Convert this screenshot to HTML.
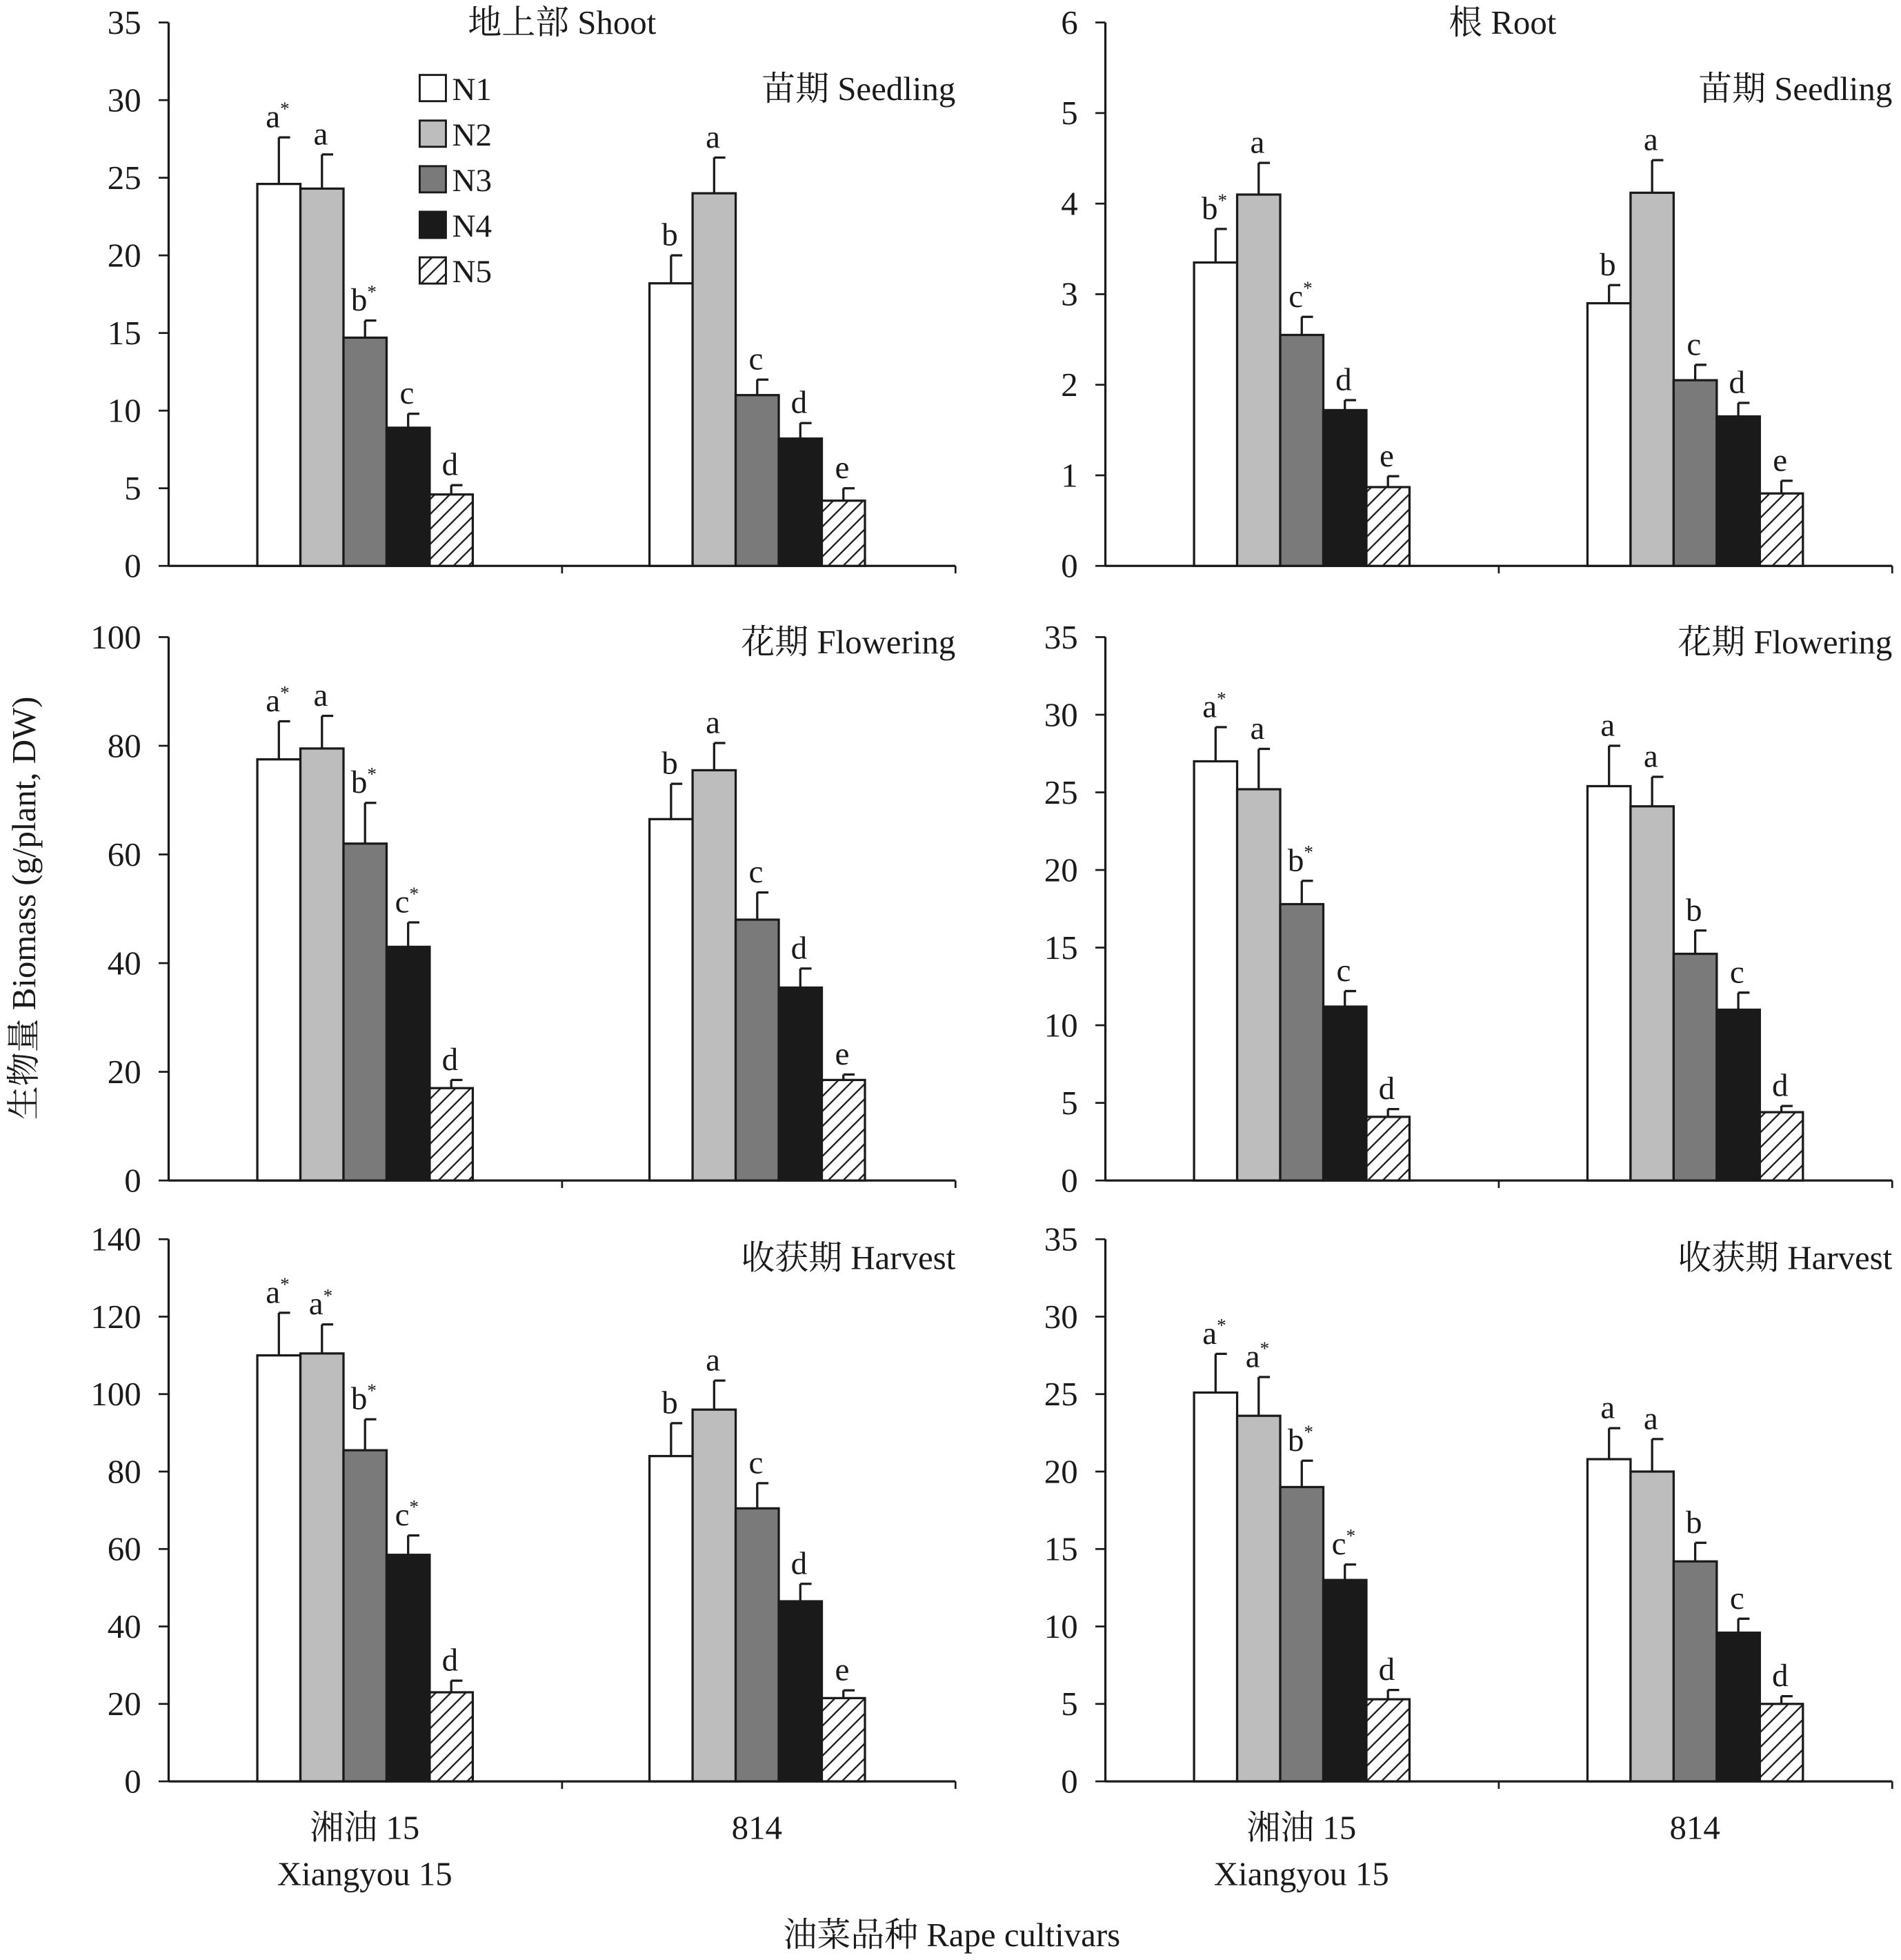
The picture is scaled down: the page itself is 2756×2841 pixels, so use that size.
<!DOCTYPE html>
<html><head><meta charset="utf-8"><style>
html,body{margin:0;padding:0;background:#fff}
svg{display:block}
svg text{font-family:"Liberation Serif","Times New Roman","Noto Serif CJK SC",serif;fill:#1a1a1a}
</style></head><body>
<svg id="fig" width="2756" height="2841" viewBox="0 0 1522 1569" xmlns="http://www.w3.org/2000/svg" font-family="Liberation Serif, Times New Roman, Noto Serif CJK SC, serif">
<defs><pattern id="hatch" patternUnits="userSpaceOnUse" width="12" height="12"><rect width="12" height="12" fill="#fff"/><path d="M-3,15 L15,-3 M-3,3 L3,-3 M9,15 L15,9" stroke="#1a1a1a" stroke-width="1.3"/></pattern></defs>
<g id="root"></g>
</svg>
<script>
const seriesNames=["N1","N2","N3","N4","N5"];
const cultivars=["Xiangyou 15","814"];
const shootSeedVals=[[24.6,24.3,14.7,8.9,4.6],[18.2,24.0,11.0,8.2,4.2]];
const shootSeedErr=[[27.6,26.5,15.8,9.8,5.2],[20.0,26.3,12.0,9.2,5.0]];
const shootSeedLab=[["a*","a","b*","c","d"],["b","a","c","d","e"]];
const rootSeedVals=[[3.35,4.1,2.55,1.72,0.87],[2.9,4.12,2.05,1.65,0.8]];
const rootSeedErr=[[3.72,4.45,2.75,1.83,0.99],[3.1,4.48,2.22,1.8,0.94]];
const rootSeedLab=[["b*","a","c*","d","e"],["b","a","c","d","e"]];
const shootFlowVals=[[77.5,79.5,62,43,17],[66.5,75.5,48,35.5,18.5]];
const shootFlowErr=[[84.5,85.5,69.5,47.5,18.5],[73,80.5,53,39,19.5]];
const shootFlowLab=[["a*","a","b*","c*","d"],["b","a","c","d","e"]];
const rootFlowVals=[[27,25.2,17.8,11.2,4.1],[25.4,24.1,14.6,11,4.4]];
const rootFlowErr=[[29.2,27.8,19.3,12.2,4.6],[28,26,16.1,12.1,4.8]];
const rootFlowLab=[["a*","a","b*","c","d"],["a","a","b","c","d"]];
const shootHarvVals=[[110,110.5,85.5,58.5,23],[84,96,70.5,46.5,21.5]];
const shootHarvErr=[[121,118,93.5,63.5,26],[92.5,103.5,77,51,23.5]];
const shootHarvLab=[["a*","a*","b*","c*","d"],["b","a","c","d","e"]];
const rootHarvVals=[[25.1,23.6,19,13,5.3],[20.8,20,14.2,9.6,5]];
const rootHarvErr=[[27.6,26.1,20.7,14,5.9],[22.8,22.1,15.4,10.5,5.5]];
const rootHarvLab=[["a*","a*","b*","c*","d"],["a","a","b","c","d"]];
const ticks35=[0,5,10,15,20,25,30,35];
const ticks6=[0,1,2,3,4,5,6];
const ticks100=[0,20,40,60,80,100];
const ticks140=[0,20,40,60,80,100,120,140];

const NS="http://www.w3.org/2000/svg";
const FF='"Liberation Serif","Times New Roman","Noto Serif CJK SC",serif';
const root=document.getElementById('root');
function el(tag,attrs,parent,txt){const e=document.createElementNS(NS,tag);for(const k in attrs)e.setAttribute(k,attrs[k]);if(tag==='text')e.style.fontFamily=FF;if(txt!==undefined)e.textContent=txt;(parent||root).appendChild(e);return e;}
const fills=["#ffffff","#bdbdbd","#7a7a7a","#1a1a1a","url(#hatch)"];

function panel(name,x0,x1,yTop,yBot,ticks,vals,errs,labs,title,titleY,groupStarts){
  const g=el('g',{});
  
  
  const max=ticks[ticks.length-1];
  const y=v=>yBot-(v/max)*(yBot-yTop);
  const ax=el('line',{x1:x0,y1:yTop,x2:x0,y2:yBot,stroke:'#1a1a1a','stroke-width':1.8},g);
  
  
  const xa=el('line',{x1:x0,y1:yBot,x2:x1,y2:yBot,stroke:'#1a1a1a','stroke-width':1.8},g);
  
  
  const mid=(x0+x1)/2;
  [mid,x1].forEach(tx=>{el('line',{x1:tx,y1:yBot,x2:tx,y2:yBot+6,stroke:'#1a1a1a','stroke-width':1.5},g);});
  ticks.forEach(t=>{
    el('line',{x1:x0-8,y1:y(t),x2:x0,y2:y(t),stroke:'#1a1a1a','stroke-width':1.5},g);
    const tl=el('text',{x:x0-22,y:y(t)+9,'text-anchor':'end','font-size':27},g,String(t));
    
    
  });
  const tt=el('text',{x:x1,y:titleY,'text-anchor':'end','font-size':27},g,title);
  
  
  const bw=34.5;
  vals.forEach((grp,gi)=>{
    grp.forEach((v,si)=>{
      const bx=groupStarts[gi]+si*bw;
      const r=el('rect',{x:bx,y:y(v),width:bw,height:yBot-y(v),fill:fills[si],stroke:'#1a1a1a','stroke-width':1.8},g);
      
      
      const cx=bx+bw/2, ey=y(errs[gi][si]);
      el('line',{x1:cx,y1:y(v),x2:cx,y2:ey,stroke:'#1a1a1a','stroke-width':1.8},g);
      el('line',{x1:cx,y1:ey,x2:cx+9,y2:ey,stroke:'#1a1a1a','stroke-width':1.8},g);
      const lab=labs[gi][si];
      const t=el('text',{x:cx-1,y:ey-8,'text-anchor':'middle','font-size':26},g);
      
      
      t.appendChild(document.createTextNode(lab.replace('*','')));
      if(lab.includes('*')){el('tspan',{'font-size':15,dy:-10},t,'*');}
    });
  });
}
const L=[135,765,[206,520]], R=[885,1515,[956,1271]];
panel('shoot-seedling-panel',L[0],L[1],18,453,ticks35,shootSeedVals,shootSeedErr,shootSeedLab,'苗期 Seedling',80,L[2]);
panel('root-seedling-panel',R[0],R[1],18,453,ticks6,rootSeedVals,rootSeedErr,rootSeedLab,'苗期 Seedling',80,R[2]);
panel('shoot-flowering-panel',L[0],L[1],510,945,ticks100,shootFlowVals,shootFlowErr,shootFlowLab,'花期 Flowering',523,L[2]);
panel('root-flowering-panel',R[0],R[1],510,945,ticks35,rootFlowVals,rootFlowErr,rootFlowLab,'花期 Flowering',523,R[2]);
panel('shoot-harvest-panel',L[0],L[1],992,1426,ticks140,shootHarvVals,shootHarvErr,shootHarvLab,'收获期 Harvest',1016,L[2]);
panel('root-harvest-panel',R[0],R[1],992,1426,ticks35,rootHarvVals,rootHarvErr,rootHarvLab,'收获期 Harvest',1016,R[2]);

seriesNames.forEach((n,i)=>{
  const ly=60+i*36.5;
  const r=el('rect',{x:336,y:ly,width:21,height:21,fill:fills[i],stroke:'#1a1a1a','stroke-width':1.6});
  
  
  const t=el('text',{x:362,y:ly+20,'font-size':26},null,n);
  
  
});
function label(name,x,y,txt,size,anchor){const t=el('text',{x:x,y:y,'font-size':size,'text-anchor':anchor||'middle'},null,txt);return t;}
label('shoot-title',450,27,'地上部 Shoot',27);
label('root-title',1203,27,'根 Root',27);
[[292,1042],[606,1357]].forEach((xs,gi)=>{
  xs.forEach(x=>{
    if(gi===0){label('x-category-xiangyou-cn',x,1472,'湘油 15',27);label('x-category-xiangyou-en',x,1509,'Xiangyou 15',27);}
    else label('x-category-814',x,1472,'814',27);
  });
});
label('x-axis-title',762,1558,'油菜品种 Rape cultivars',27);
const yt=label('y-axis-title',0,0,'生物量 Biomass (g/plant, DW)',27);
yt.setAttribute('transform','translate(28,727) rotate(-90)');
</script>
</body></html>
